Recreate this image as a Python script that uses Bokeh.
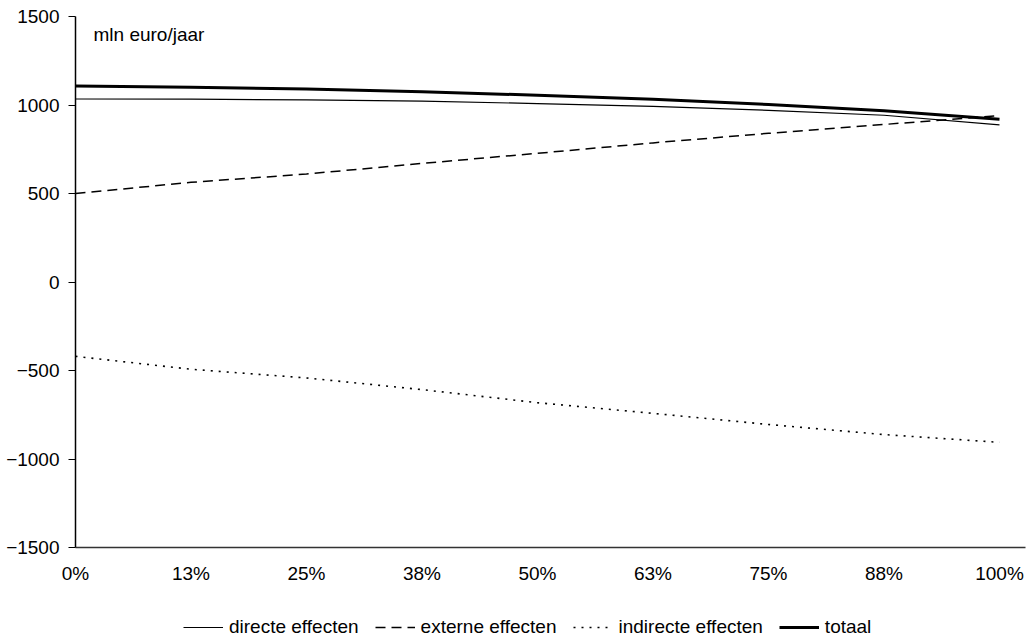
from bokeh.plotting import figure
from bokeh.layouts import column
from bokeh.models import Range1d, FixedTicker, Legend, LegendItem, Label
from bokeh.embed import file_html
from bokeh.resources import INLINE

# ---- data ----
categories = ["0%", "13%", "25%", "38%", "50%", "63%", "75%", "88%", "100%"]
directe = [1034, 1033, 1029, 1022, 1008, 992, 970, 942, 888]
externe = [500, 563, 610, 670, 727, 786, 840, 890, 940]
indirecte = [-420, -493, -542, -608, -682, -742, -805, -862, -906]
totaal = [1107, 1100, 1090, 1075, 1055, 1032, 1003, 967, 920]
y_ticks = [-1500, -1000, -500, 0, 500, 1000, 1500]
series_names = ["directe effecten", "externe effecten", "indirecte effecten", "totaal"]
unit_label = "mln euro/jaar"

xs = list(range(len(categories)))
series = [directe, externe, indirecte, totaal]
FONT = "Liberation Sans"
FS = "19px"

styles = [
    dict(line_color="black", line_width=1.2),
    dict(line_color="black", line_width=1.5, line_dash="10 6"),
    dict(line_color="black", line_width=1.6, line_dash="2 6"),
    dict(line_color="black", line_width=3),
]

p = figure(width=1029, height=600, output_backend="svg", toolbar_location=None,
           x_range=Range1d(0, 950 / 115.5), y_range=Range1d(-1500, 1500),
           min_border_left=75, min_border_right=4, min_border_top=16, min_border_bottom=53)
p.outline_line_color = None
p.grid.visible = False
p.background_fill_color = "white"
p.border_fill_color = "white"

# axes
p.xaxis.ticker = FixedTicker(ticks=xs)
p.xaxis.major_label_overrides = {i: c for i, c in enumerate(categories)}
p.xaxis.major_tick_out = 0
p.xaxis.major_tick_in = 0
p.xaxis.minor_tick_out = 0
p.xaxis.minor_tick_in = 0
p.xaxis.axis_line_color = "#333333"
p.xaxis.axis_line_width = 1.5
p.xaxis.major_label_standoff = 15

p.yaxis.ticker = FixedTicker(ticks=y_ticks)
p.yaxis.major_tick_out = 7
p.yaxis.major_tick_in = 0
p.yaxis.minor_tick_out = 0
p.yaxis.minor_tick_in = 0
p.yaxis.axis_line_color = "black"
p.yaxis.axis_line_width = 1.5
p.yaxis.major_tick_line_color = "black"
p.yaxis.major_tick_line_width = 1.2
p.yaxis.major_label_standoff = 9

for ax in (p.xaxis, p.yaxis):
    ax.major_label_text_font = FONT
    ax.major_label_text_font_size = FS
    ax.major_label_text_color = "black"

# series
for vals, st in zip(series, styles):
    p.line(xs, vals, **st)

p.add_layout(Label(x=0.156, y=1400, text=unit_label, text_font=FONT, text_font_size=FS,
                   text_color="black", text_baseline="middle", text_align="left"))

# ---- legend strip (separate figure so the legend sits inside its frame) ----
# the series are drawn here again only to provide legend glyphs; their values lie
# outside this strip's y range, so only the legend is visible
pl = figure(width=1029, height=40, output_backend="svg", toolbar_location=None,
            x_axis_location=None, y_axis_location=None,
            x_range=Range1d(0, 8), y_range=Range1d(0, 1),
            min_border_left=0, min_border_right=0, min_border_top=0, min_border_bottom=0)
pl.outline_line_color = None
pl.grid.visible = False
leg_renderers = [pl.line(xs, vals, **st) for vals, st in zip(series, styles)]

legend = Legend(items=[LegendItem(label=n, renderers=[r]) for n, r in
                       zip(series_names, leg_renderers)],
                orientation="horizontal", location=(108, 2),
                label_text_font=FONT, label_text_font_size=FS, label_text_color="black",
                glyph_width=40, glyph_height=20, label_standoff=6, spacing=16,
                padding=0, margin=0, border_line_color=None, background_fill_alpha=0)
pl.add_layout(legend, "center")

layout = column(p, pl, spacing=0)
open("out.html", "w").write(file_html(layout, INLINE))
